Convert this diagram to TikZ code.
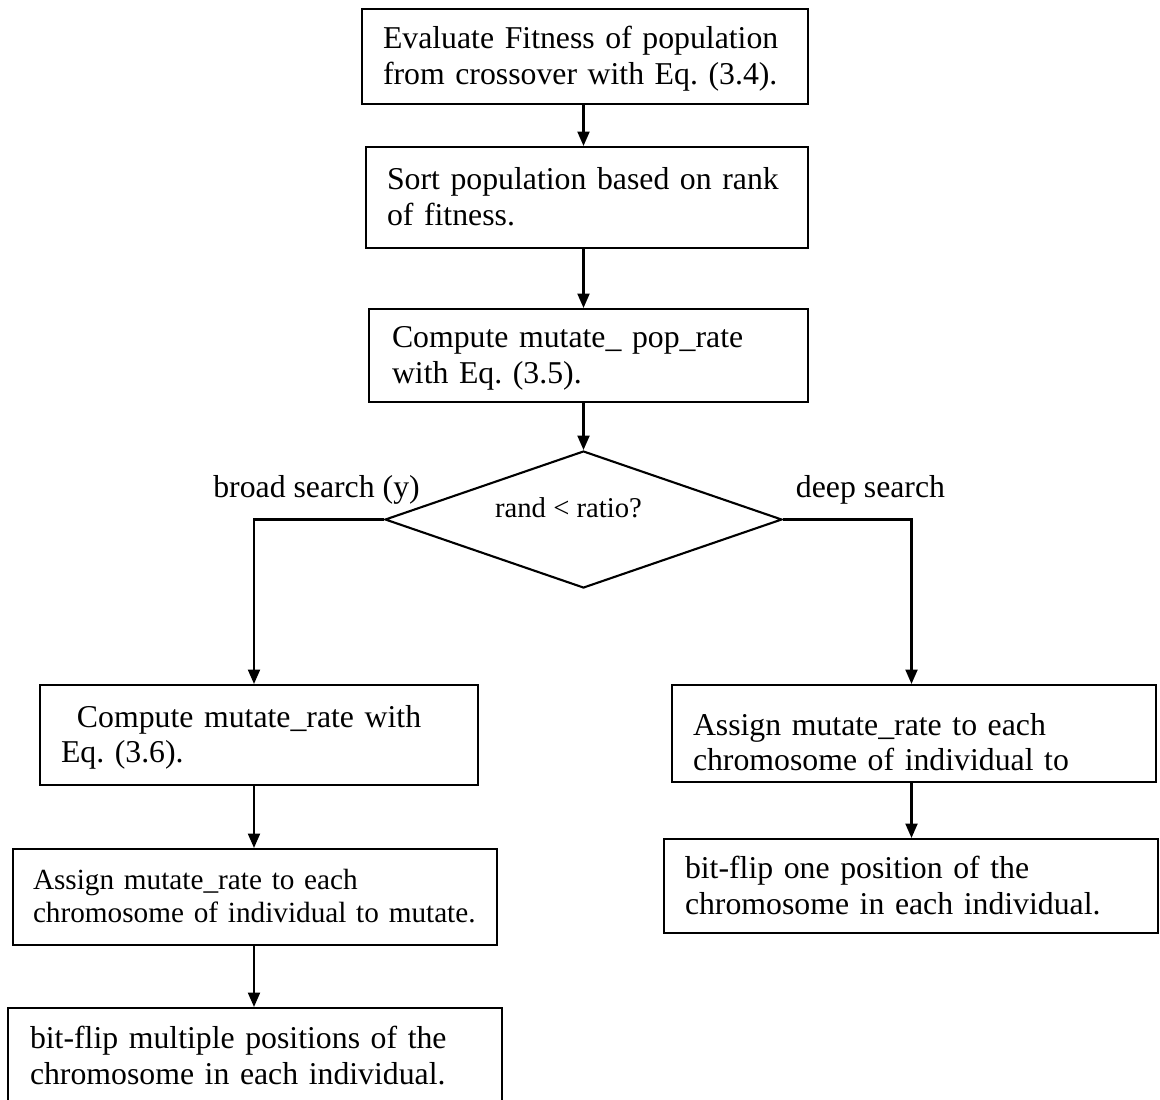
\documentclass[tikz,border=0pt]{standalone}
\usepackage{fontspec}
\setmainfont{Liberation Serif}
\usepackage{tikz}
\usetikzlibrary{positioning}
\usetikzlibrary{shapes.geometric}
\usetikzlibrary{arrows.meta}
\frenchspacing

\begin{document}
\begin{tikzpicture}[
    font=\fontsize{22.6pt}{25.6pt}\selectfont,
    line width=1.5pt,
    process/.style={rectangle,draw,align=left,inner sep=0pt,text height=0.55cm,text depth=0.95cm},
    smalltext/.style={font=\fontsize{20.8pt}{23.5pt}\selectfont},
    decision/.style={diamond,draw,inner sep=0pt,minimum width=9.925cm,minimum height=3.425cm},
    arrow/.style={-{Triangle[length=3.6mm,width=3mm]}}
]

\useasboundingbox (0,0) rectangle (29,-27.5);

\node[process,minimum width=11.15cm,minimum height=2.375cm,text width=10.1cm] (eval) at (14.625,-1.4125) {Evaluate Fitness of population\\from crossover with Eq. (3.4).};
\node[process,minimum width=11.05cm,minimum height=2.525cm,text width=10cm] (sort) at (14.675,-4.9375) {Sort population based on rank\\of fitness.};
\node[process,minimum width=10.975cm,minimum height=2.325cm,text width=9.825cm] (rate) at (14.7125,-8.8875) {Compute mutate\_ pop\_rate\\with Eq. (3.5).};
\node[decision] (dec) at (14.5875,-12.9875) {};
\node[font=\fontsize{20.4pt}{23pt}\selectfont,anchor=base] (quest) at (14.2125,-12.925) {rand < ratio?};
\node[anchor=base] (broad) at (7.9125,-12.425) {broad search (y)};
\node[anchor=base] (deep) at (21.7625,-12.425) {deep search};

\node[process,minimum width=10.95cm,minimum height=2.5cm,text width=9.9cm] (mrate) at (6.475,-18.375) {\hspace*{0.4cm}Compute mutate\_rate with\\Eq. (3.6).};
\node[process,smalltext,minimum width=12.1cm,minimum height=2.4cm,text width=11.1cm] (assignL) at (6.375,-22.425) {Assign mutate\_rate to each\\chromosome of individual to mutate.};
\node[process,minimum width=12.35cm,minimum height=2.4cm,text width=11.25cm] (flipL) at (6.375,-26.4) {bit-flip multiple positions of the\\chromosome in each individual.};

\node[process,minimum width=12.1cm,minimum height=2.425cm,text width=11.05cm,text depth=0.475cm] (assignR) at (22.85,-18.3375) {Assign mutate\_rate to each\\chromosome of individual to};
\node[process,minimum width=12.35cm,minimum height=2.35cm,text width=11.3cm] (flipR) at (22.775,-22.15) {bit-flip one position of the\\chromosome in each individual.};

\coordinate (lcol) at (6.35,0);
\coordinate (rcol) at (22.7875,0);

\draw[arrow] (eval.south -| dec.north) -- (sort.north -| dec.north);
\draw[arrow] (sort.south -| dec.north) -- (rate.north -| dec.north);
\draw[arrow] (rate.south -| dec.north) -- (dec.north);
\draw[arrow] (dec.west) -| (lcol |- mrate.north);
\draw[arrow] (dec.east) -| (rcol |- assignR.north);
\draw[arrow] (lcol |- mrate.south) -- (lcol |- assignL.north);
\draw[arrow] (lcol |- assignL.south) -- (lcol |- flipL.north);
\draw[arrow] (rcol |- assignR.south) -- (rcol |- flipR.north);

\end{tikzpicture}
\end{document}
